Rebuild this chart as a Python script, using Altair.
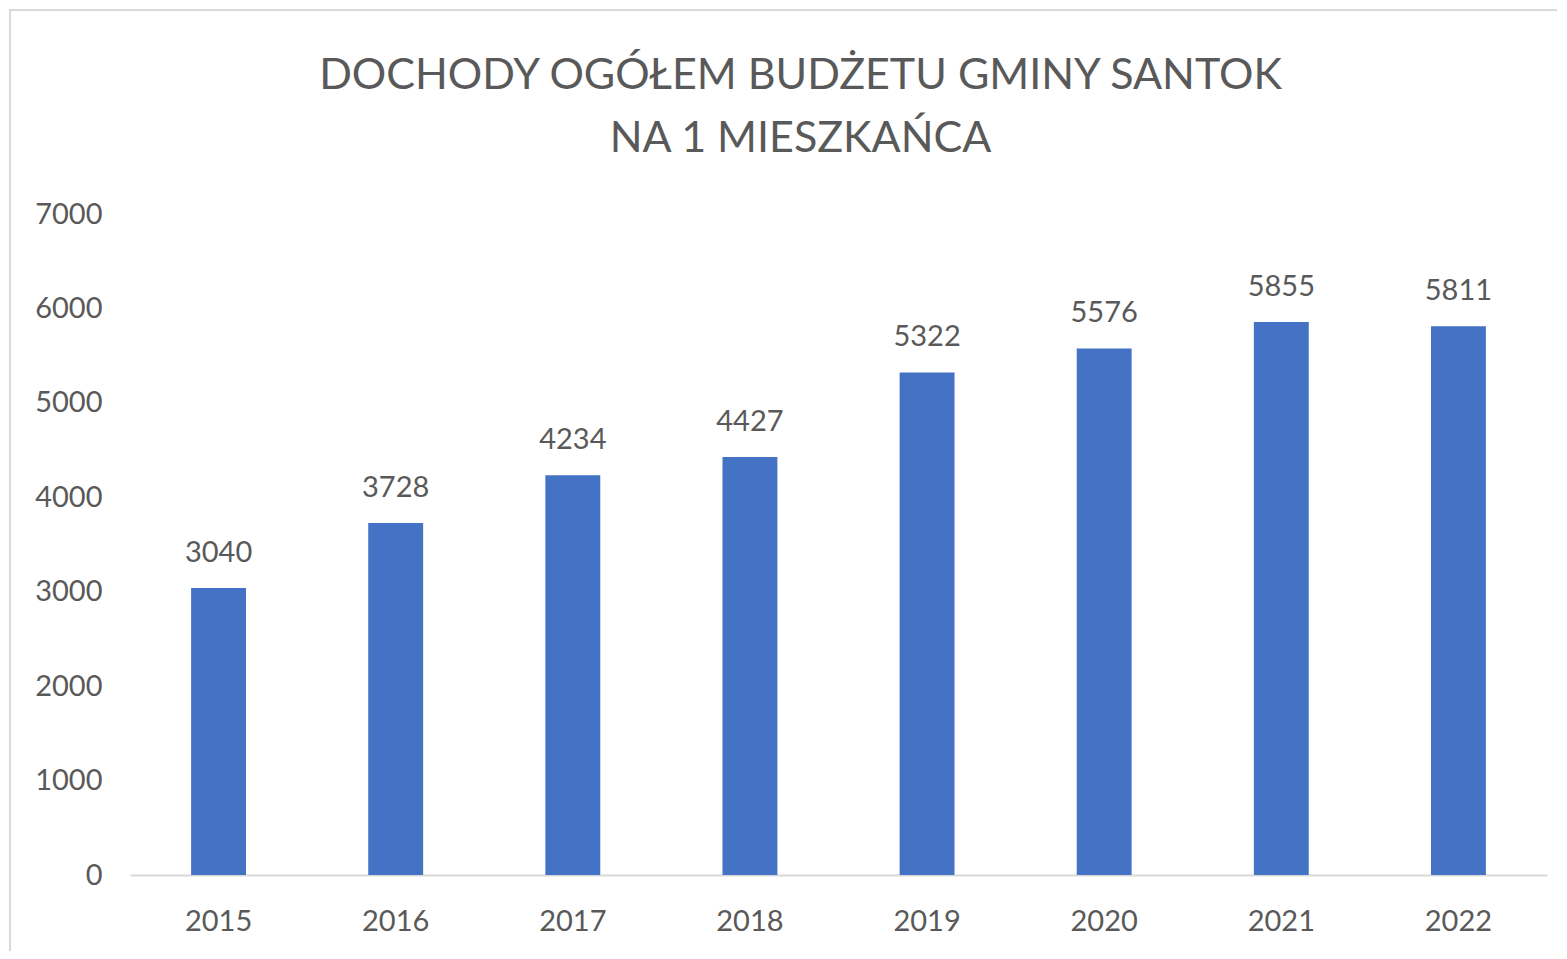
import altair as alt
import pandas as pd

years = ["2015", "2016", "2017", "2018", "2019", "2020", "2021", "2022"]
values = [3040, 3728, 4234, 4427, 5322, 5576, 5855, 5811]
y_ticks = [0, 1000, 2000, 3000, 4000, 5000, 6000, 7000]
title_lines = ["DOCHODY OGÓŁEM BUDŻETU GMINY SANTOK", "NA 1 MIESZKAŃCA"]

df = pd.DataFrame({"rok": years, "wartosc": values})

FONT = "Lato"
GREY = "#595959"

x_enc = alt.X("rok:N", sort=years, title=None,
              scale=alt.Scale(paddingInner=0.69, paddingOuter=0.345),
              axis=alt.Axis(labelAngle=0, labelFont=FONT, labelFontSize=29,
                            labelColor=GREY, labelPadding=32, ticks=False,
                            domainColor="#D9D9D9", domainWidth=2))
y_enc = alt.Y("wartosc:Q", title=None,
              scale=alt.Scale(domain=[0, 7000], nice=False),
              axis=alt.Axis(values=y_ticks, format="d", grid=False, domain=False,
                            ticks=False, labelFont=FONT, labelFontSize=29,
                            labelColor=GREY, labelPadding=28))

frame = alt.Chart(df).mark_rect(fill=None, stroke="#D9D9D9", strokeWidth=2).encode(
    x=alt.value(-120), x2=alt.value(1700), y=alt.value(-204), y2=alt.value(1000)
)

bars = alt.Chart(df).mark_bar(color="#4472C4").encode(x=x_enc, y=y_enc)

labels = alt.Chart(df).mark_text(font=FONT, fontSize=29, color=GREY,
                                 baseline="alphabetic", dy=-26).encode(
    x=alt.X("rok:N", sort=years),
    y=alt.Y("wartosc:Q"),
    text=alt.Text("wartosc:Q", format="d"),
)

chart = alt.layer(frame, bars, labels).properties(
    width=1417, height=661,
    autosize=alt.AutoSizeParams(type="none"),
    padding={"left": 122, "top": 206, "right": 10, "bottom": 76},
    background="white",
    title=alt.Title(title_lines, font=FONT, fontSize=43, fontWeight="normal",
                    color=GREY, anchor="middle", dx=-38, offset=-152,
                    lineHeight=63),
).configure_view(strokeWidth=0, stroke="transparent")

chart.save("out.html", embed_options={"renderer": "svg", "actions": False})
